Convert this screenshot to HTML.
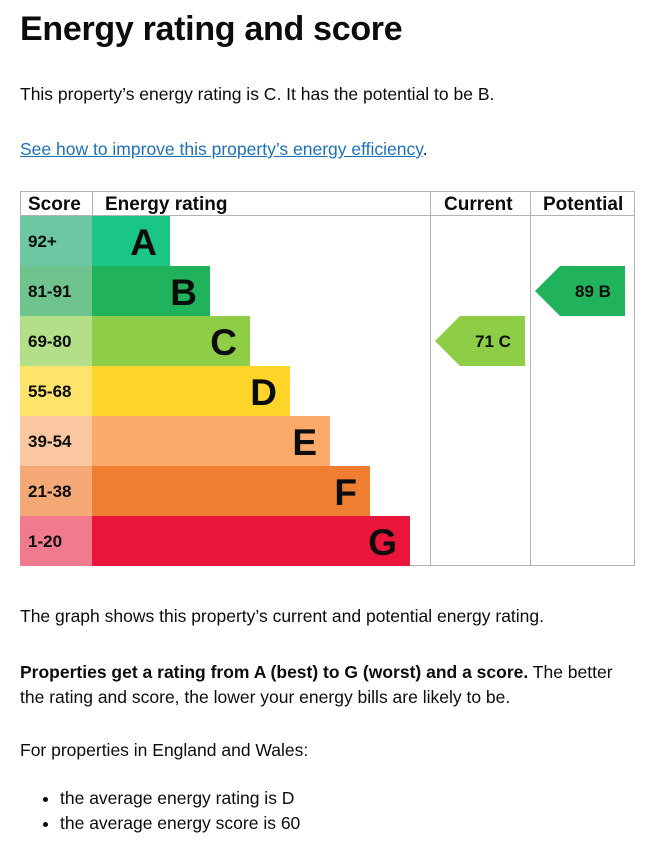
<!DOCTYPE html>
<html><head><meta charset="utf-8"><style>
body{margin:0;background:#fff;font-family:"Liberation Sans",Arial,sans-serif;color:#0b0c0c;width:649px;height:844px;overflow:hidden;position:relative}
.t{position:absolute;left:20px;margin:0}
h1{font-size:34px;font-weight:bold;top:10px;letter-spacing:-0.3px}
p{font-size:17.5px}
a{color:#1d70b8;text-decoration:underline}
ul{position:absolute;left:20px;top:786px;margin:0;padding-left:40px;font-size:17.5px;line-height:25px}
</style></head><body>
<h1 class="t">Energy rating and score</h1>
<p class="t" style="top:84px">This property’s energy rating is C. It has the potential to be B.</p>
<p class="t" style="top:139px"><a href="#">See how to improve this property’s energy efficiency</a>.</p>
<svg id="chart" style="position:absolute;left:0;top:0" width="649" height="600"></svg>
<p class="t" style="top:606px">The graph shows this property’s current and potential energy rating.</p>
<p class="t" style="top:660px;line-height:25px;width:620px"><b>Properties get a rating from A (best) to G (worst) and a score.</b> The better the rating and score, the lower your energy bills are likely to be.</p>
<p class="t" style="top:740px">For properties in England and Wales:</p>
<ul><li>the average energy rating is D</li><li>the average energy score is 60</li></ul>
<script>
const bands=["A","B","C","D","E","F","G"];
const ranges=["92+","81-91","69-80","55-68","39-54","21-38","1-20"];
const mins=[92,81,69,55,39,21,1];
const colors=["#19c685","#21b35b","#8dce46","#ffd52a","#fbaa6c","#ef7e30","#e9153b"];
const scoreColors=["#6cc7a2","#6ec48c","#b3df88","#ffe36b","#fcc7a0","#f4a875","#f27a8e"];
const currentScore=71, potentialScore=89;
const NS="http://www.w3.org/2000/svg";
const svg=document.getElementById("chart");
const top0=216,rowH=50,L=20,R=635;
function y(i){return top0+i*rowH;}
function barEnd(i){return 170+i*40;}
function bandOf(s){for(let i=0;i<mins.length;i++)if(s>=mins[i])return i;return 6;}
function el(t,a){const e=document.createElementNS(NS,t);for(const k in a)e.setAttribute(k,a[k]);svg.appendChild(e);return e;}
function txt(x,yy,s,size,anchor){const e=el("text",{x:x,y:yy,"font-size":size,"font-weight":"bold","text-anchor":anchor||"start","font-family":"Liberation Sans, Arial, sans-serif",fill:"#0b0c0c"});e.textContent=s;return e;}
// grid
const g=el("rect",{x:L+.5,y:191.5,width:R-L-1,height:374,fill:"none",stroke:"#b1b4b6"});


[92,430,530].forEach(x=>{const l=el("line",{x1:x+.5,x2:x+.5,y1:191,y2:566,stroke:"#b1b4b6"});

});
const hl=el("line",{x1:L,x2:R,y1:215.5,y2:215.5,stroke:"#b1b4b6"});


[["Score",28],["Energy rating",105],["Current",444],["Potential",543]].forEach(h=>{const t=txt(h[1],210,h[0],19);

});
bands.forEach((b,i)=>{
 const s=el("rect",{x:L,y:y(i),width:72,height:rowH,fill:scoreColors[i]});
 
 
 const st=txt(28,y(i)+31,ranges[i],17);
 
 
 const r=el("rect",{x:92,y:y(i),width:barEnd(i)-92,height:rowH,fill:colors[i]});
 
 
 const lt=txt(barEnd(i)-13,y(i)+39,b,37,"end");
 
 
});
function arrow(score,x0,name){
 const i=bandOf(score),yy=y(i);
 const p=el("polygon",{points:`${x0},${yy+25} ${x0+25},${yy} ${x0+90},${yy} ${x0+90},${yy+50} ${x0+25},${yy+50}`,fill:colors[i]});
 
 
 const t=txt(x0+58,yy+31,score+"  "+bands[i],17,"middle");
 t.setAttribute('xml:space','preserve');
 
 
}
arrow(currentScore,435,"current");
arrow(potentialScore,535,"potential");
</script>
</body></html>
